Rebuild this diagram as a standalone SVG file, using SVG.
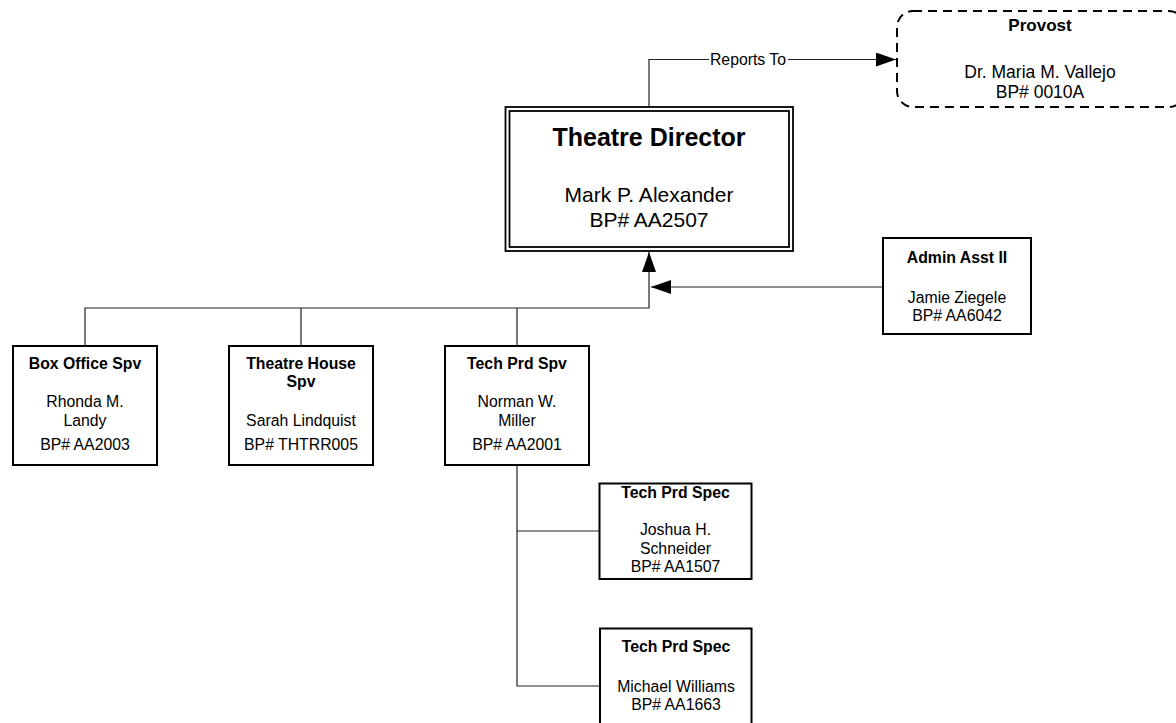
<svg xmlns="http://www.w3.org/2000/svg" width="1176" height="723" viewBox="0 0 1176 723">
<defs>
<style>
.box{fill:#fff;stroke:#000;stroke-width:2}
.dbl{fill:none;stroke:#000;stroke-width:1.8}
.dash{fill:#fff;stroke:#000;stroke-width:2;stroke-dasharray:9 6}
.con{fill:none;stroke:#222;stroke-width:1.2}
text{font-family:"Liberation Sans",Arial,sans-serif;fill:#000;text-anchor:middle}
.t{font-size:15.8px;font-weight:bold}
.n{font-size:15.8px}
.lbl{font-size:15.8px}
</style>
<marker id="arr" viewBox="0 0 20 14" refX="20" refY="7" markerWidth="20" markerHeight="14" markerUnits="userSpaceOnUse" orient="auto">
<path d="M0,0 L20,7 L0,14 Z" fill="#000"/>
</marker>
</defs>
<rect width="1176" height="723" fill="#fff"/>
<g id="connectors">
<path class="con" d="M649,107 V59.5 H709"/>
<path class="con" d="M788,59.5 H896" marker-end="url(#arr)"/>
<text class="lbl" x="748" y="64.5">Reports To</text>
<path class="con" d="M85,346 V308 H649 V252" marker-end="url(#arr)"/>
<path class="con" d="M301,308 V346"/>
<path class="con" d="M517,308 V346"/>
<path class="con" d="M883,287 H651" marker-end="url(#arr)"/>
<path class="con" d="M517,465 V686 H600"/>
<path class="con" d="M517,531 H599"/>
</g>
<g id="provost">
<rect class="dash" x="897" y="11" width="288" height="96" rx="16"/>
<text x="1040" y="31" style="font-size:17px;font-weight:bold">Provost</text>
<text x="1040" y="77.5" style="font-size:17.5px">Dr. Maria M. Vallejo</text>
<text x="1040" y="97.5" style="font-size:17.5px">BP# 0010A</text>
</g>
<g id="director">
<rect class="dbl" x="505.5" y="107" width="287.5" height="144"/>
<rect class="dbl" x="509.5" y="111" width="279.5" height="136"/>
<text x="649" y="146" style="font-size:25px;font-weight:bold">Theatre Director</text>
<text x="649" y="201.5" style="font-size:21px">Mark P. Alexander</text>
<text x="649" y="226.5" style="font-size:21px">BP# AA2507</text>
</g>
<g id="admin">
<rect class="box" x="883" y="238" width="148" height="96"/>
<text class="t" x="957" y="262.5">Admin Asst II</text>
<text class="n" x="957" y="302.5">Jamie Ziegele</text>
<text class="n" x="957" y="320.5">BP# AA6042</text>
</g>
<g id="boxoffice">
<rect class="box" x="13" y="346" width="144" height="119"/>
<text class="t" x="85" y="369">Box Office Spv</text>
<text class="n" x="85" y="406.5">Rhonda M.</text>
<text class="n" x="85" y="426">Landy</text>
<text class="n" x="85" y="450">BP# AA2003</text>
</g>
<g id="theatrehouse">
<rect class="box" x="229" y="346" width="144" height="119"/>
<text class="t" x="301" y="369">Theatre House</text>
<text class="t" x="301" y="387">Spv</text>
<text class="n" x="301" y="426">Sarah Lindquist</text>
<text class="n" x="301" y="450">BP# THTRR005</text>
</g>
<g id="techprdspv">
<rect class="box" x="445" y="346" width="144" height="119"/>
<text class="t" x="517" y="369">Tech Prd Spv</text>
<text class="n" x="517" y="406.5">Norman W.</text>
<text class="n" x="517" y="426">Miller</text>
<text class="n" x="517" y="449.5">BP# AA2001</text>
</g>
<g id="techprdspec1">
<rect class="box" x="599.5" y="483.5" width="152" height="95.5"/>
<text class="t" x="675.5" y="497.5">Tech Prd Spec</text>
<text class="n" x="675.5" y="535">Joshua H.</text>
<text class="n" x="675.5" y="553.5">Schneider</text>
<text class="n" x="675.5" y="571.5">BP# AA1507</text>
</g>
<g id="techprdspec2">
<rect class="box" x="600" y="628.5" width="151.5" height="96"/>
<text class="t" x="676" y="652">Tech Prd Spec</text>
<text class="n" x="676" y="691.5">Michael Williams</text>
<text class="n" x="676" y="710">BP# AA1663</text>
</g>
</svg>
